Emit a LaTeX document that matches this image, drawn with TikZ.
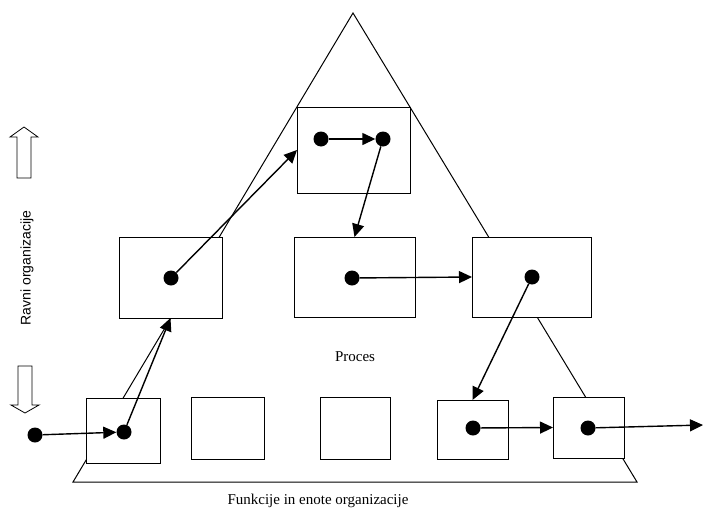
\documentclass[tikz,border=0pt]{standalone}
\usepackage{fontspec}
\setmainfont{Liberation Serif}
\setsansfont{Liberation Sans}
\usetikzlibrary{arrows.meta}

\begin{document}
\begin{tikzpicture}[
  x=1pt, y=-1pt,
  box/.style={draw, line width=0.7pt, fill=white, inner sep=0pt, outer sep=0pt},
  dot/.style={circle, fill=black, minimum size=15pt, inner sep=0pt},
  flow/.style={-{Triangle[length=13pt, width=12pt]}, line width=1.4pt},
  hollow/.style={draw, line width=0.8pt, fill=white}
]
\useasboundingbox (0,0) rectangle (703,511);

% organisation pyramid
\draw[line width=1pt] (353,13) -- (73,482) -- (637,482) -- cycle;

% top level
\node[box, minimum width=113pt, minimum height=86pt] (t) at (353.5,150) {};
% middle level
\node[box, minimum width=103pt, minimum height=81pt] (m1) at (170.5,277.5) {};
\node[box, minimum width=121pt, minimum height=80pt] (m2) at (354.5,277) {};
\node[box, minimum width=119pt, minimum height=80pt] (m3) at (531.5,277) {};
% bottom level
\node[box, minimum width=74pt, minimum height=65pt] (b1) at (123,430.5) {};
\node[box, minimum width=73pt, minimum height=62pt] (b2) at (227.5,428) {};
\node[box, minimum width=70pt, minimum height=62pt] (b3) at (355,428) {};
\node[box, minimum width=71pt, minimum height=59pt] (b4) at (472.5,429.5) {};
\node[box, minimum width=71pt, minimum height=61pt] (b5) at (588.5,427.5) {};

% process points
\node[dot] (d0) at (35,435) {};
\node[dot] (d1) at (124,432) {};
\node[dot] (d2) at (171,278) {};
\node[dot] (d3) at (321,139) {};
\node[dot] (d4) at (383,139) {};
\node[dot] (d5) at (352,278) {};
\node[dot] (d6) at (532,277) {};
\node[dot] (d7) at (473,428) {};
\node[dot] (d8) at (588,428) {};
\coordinate (out) at (703,425);

% process flow
\draw[flow] (d0) -- (d1);
\draw[flow] (d1) -- (m1.south);
\draw[flow] (d2) -- (t.west);
\draw[flow] (d3) -- (d4);
\draw[flow] (d4) -- (m2.north);
\draw[flow] (d5) -- (m3.west);
\draw[flow] (d6) -- (b4.north);
\draw[flow] (d7) -- (b5.west);
\draw[flow] (d8) -- (out);

% levels of the organisation
\draw[hollow] (17,178) -- (17,137) -- (10,137) -- (24,127) -- (38,137) -- (31,137) -- (31,178) -- cycle;
\draw[hollow] (18,366) -- (18,405) -- (11,405) -- (25,413) -- (39,405) -- (32,405) -- (32,366) -- cycle;
\node[rotate=90, font=\sffamily\fontsize{14}{16}\selectfont] (ravni) at (27,268) {Ravni organizacije};

% labels
\node[font=\fontsize{15}{18}\selectfont] (proces) at (355,357) {Proces};
\node[font=\fontsize{15}{18}\selectfont] (funk) at (318,501) {Funkcije in enote organizacije};

\end{tikzpicture}
\end{document}
